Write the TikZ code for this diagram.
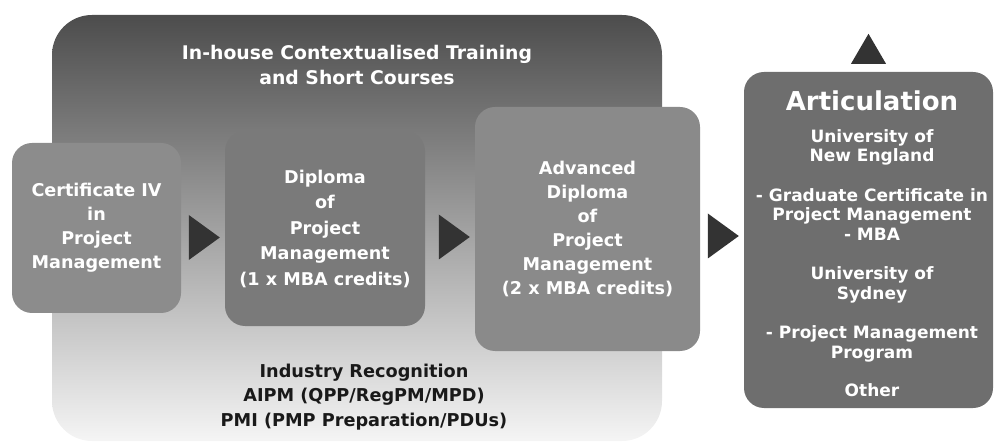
\documentclass[tikz,border=0pt]{standalone}
\usepackage{fontspec}
\setmainfont{DejaVu Sans}
\usetikzlibrary{shapes.geometric,calc}

\begin{document}
\begin{tikzpicture}[x=1pt,y=-1pt,
  box/.style={rounded corners=20pt,fill=black!45,text=white,align=center,
    inner sep=0pt,font=\bfseries\fontsize{17.6}{24}\selectfont},
  tri/.style={isosceles triangle,isosceles triangle stretches,fill=black!80,
    minimum width=45pt,minimum height=31pt,inner sep=0pt,outer sep=0pt,anchor=apex}]
\useasboundingbox (0,0) rectangle (995,443);

% background panel
\node[rounded corners=40pt,minimum width=610pt,minimum height=426pt,
  top color=black!70,middle color=black!33,bottom color=black!4] (inhouse) at (357,228) {};
\node[text=white,align=center,font=\bfseries\fontsize{18.8}{25}\selectfont] (title) at (357,65)
  {In-house Contextualised Training\\and Short Courses};
\node[text=black!90,align=center,font=\bfseries\fontsize{17.7}{24.5}\selectfont] (recog) at (364,397)
  {Industry Recognition\\AIPM (QPP/RegPM/MPD)\\PMI (PMP Preparation/PDUs)};

% course boxes
\node[box,minimum width=169pt,minimum height=170pt] (cert) at (96.5,228)
  {Certificate IV\\in\\Project\\Management};
\node[box,fill=black!52,minimum width=200pt,minimum height=195pt,
  font=\bfseries\fontsize{17.6}{25.5}\selectfont] (dip) at (325,228.5)
  {Diploma\\of\\Project\\Management\\(1 x MBA credits)};
\node[box,fill=black!46,minimum width=225pt,minimum height=244pt] (adv) at (587.5,229)
  {Advanced\\Diploma\\of\\Project\\Management\\(2 x MBA credits)};
\node[box,fill=black!57,minimum width=249pt,minimum height=336pt] (art) at (868.5,240) {};
\node[text=white,align=center,font=\bfseries\fontsize{17}{19.5}\selectfont] (arttext) at (872,244)
  {{\fontsize{26}{30}\selectfont Articulation}\\[12pt]
   University of\\New England\\[20pt]
   - Graduate Certificate in\\Project Management\\- MBA\\[20pt]
   University of\\Sydney\\[20pt]
   - Project Management\\Program\\[19pt]
   Other};

% arrows
\node[tri] (a1) at ($(dip.west)+(-5,9)$) {};
\node[tri] (a2) at ($(adv.west)+(-5,8)$) {};
\node[tri] (a3) at ($(art.west)+(-5,-4)$) {};
\node[tri,shape border rotate=90,minimum width=35pt,minimum height=30pt] (up) at ($(art.north)+(0,-38)$) {};

\end{tikzpicture}
\end{document}
